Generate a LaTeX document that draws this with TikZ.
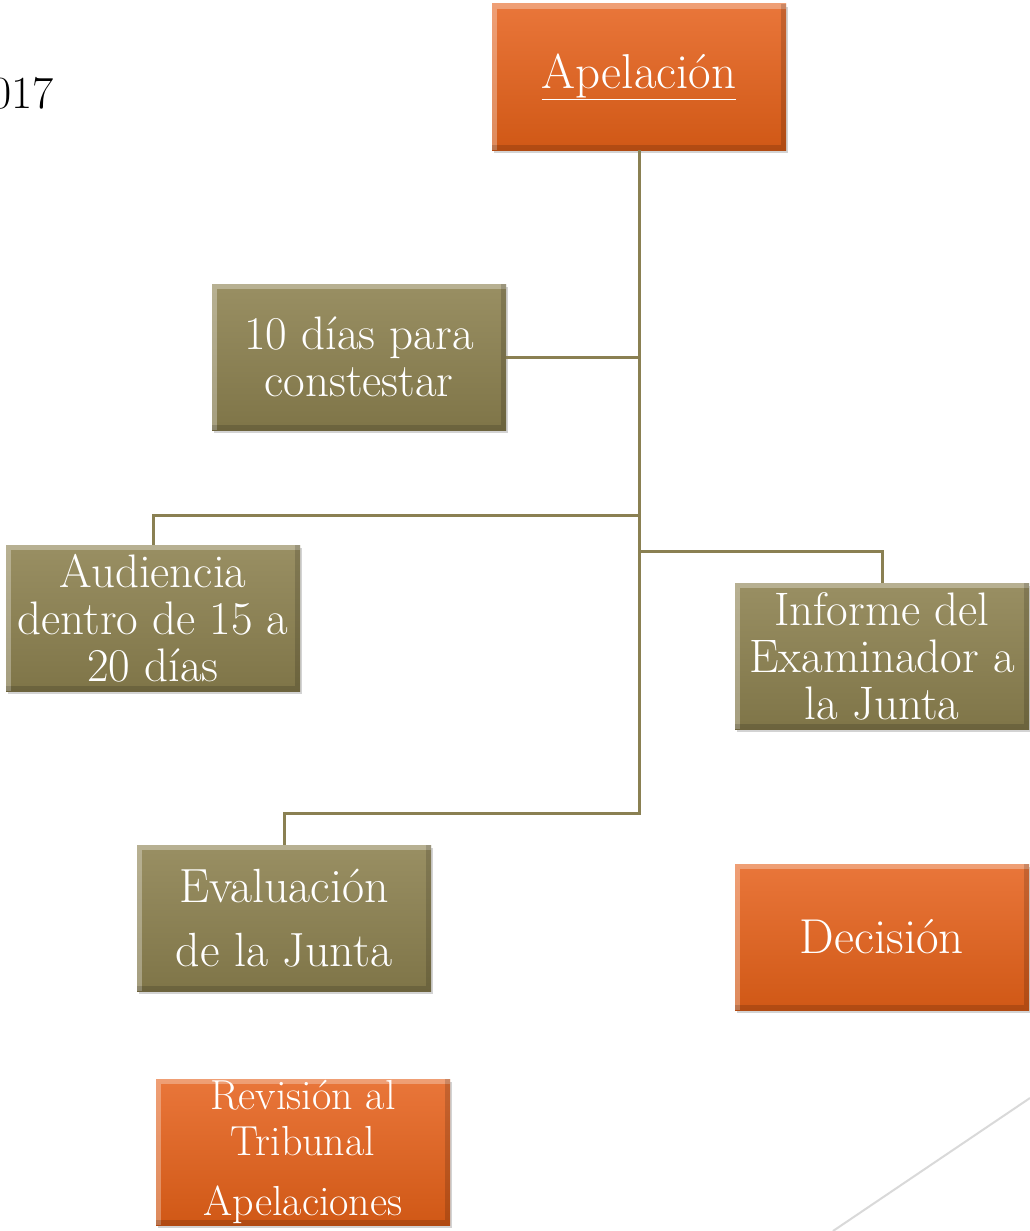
\documentclass[tikz,border=0pt]{standalone}
\usepackage{fontspec}
\usetikzlibrary{
    calc,
    shadows,
}
\definecolor{orangetop}{RGB}{233,118,58}
\definecolor{orangebot}{RGB}{208,88,22}
\definecolor{olivetop}{RGB}{153,143,99}
\definecolor{olivebot}{RGB}{127,117,72}
\definecolor{linkcol}{RGB}{138,128,82}

\begin{document}
\begin{tikzpicture}[
        x=1pt, y=-1pt,
        box/.style={rectangle, minimum width=294pt, minimum height=146pt, inner sep=0pt,
            text=white, align=center, font=\fontsize{47}{47}\selectfont,
            drop shadow={opacity=0.35, shadow xshift=2pt, shadow yshift=-3pt},
            path picture={
                \draw[white, opacity=0.3, line width=10pt]
                    (path picture bounding box.south west) -- (path picture bounding box.north west)
                    -- (path picture bounding box.north east);
                \draw[black, opacity=0.15, line width=10pt]
                    (path picture bounding box.north east) -- (path picture bounding box.south east)
                    -- (path picture bounding box.south west);
            }},
        orangebox/.style={box, top color=orangetop, bottom color=orangebot},
        olivebox/.style={box, top color=olivetop, bottom color=olivebot},
        link/.style={draw=linkcol, line width=3pt},
        ]
        \useasboundingbox (0,0) rectangle (1030,1231);
        \clip (0,0) rectangle (1030,1231);
        \node[anchor=base east, font=\fontsize{46}{50}\selectfont] (YEAR) at (57,108) {2017};
        \node[orangebox, font=\fontsize{49}{49}\selectfont] (APEL) at (639,77) {\underline{Apelación}};
        \node[olivebox]  (DIAS) at (359,357) {10 días para\\constestar};
        \node[olivebox]  (AUD)  at (153,618) {Audiencia\\dentro de 15 a\\20 días};
        \node[olivebox]  (INF)  at (882,656) {Informe del\\Examinador a\\la Junta};
        \node[olivebox, font=\fontsize{48}{48}\selectfont] (EVAL) at (284,918) {Evaluación\\[16pt]de la Junta};
        \node[orangebox, font=\fontsize{49}{49}\selectfont] (DEC) at (882,937) {Decisión};
        \node[orangebox, font=\fontsize{42}{46}\selectfont] (REV) at (303,1152) {Revisión al\\Tribunal\\[14pt]Apelaciones};
        \coordinate (JAUD)  at (639,515);
        \coordinate (JINF)  at (639,551);
        \coordinate (TRUNK) at (639,813);
        \draw[link] (APEL.south) -- (TRUNK) -| (EVAL.north);
        \draw[link] (DIAS.east) -- (DIAS.east -| APEL.south);
        \draw[link] (JAUD) -| (AUD.north);
        \draw[link] (JINF) -| (INF.north);
        % corner line
        \draw[gray!30, line width=2pt] (833,1231) -- (1030,1098);
    \end{tikzpicture}
\end{document}
